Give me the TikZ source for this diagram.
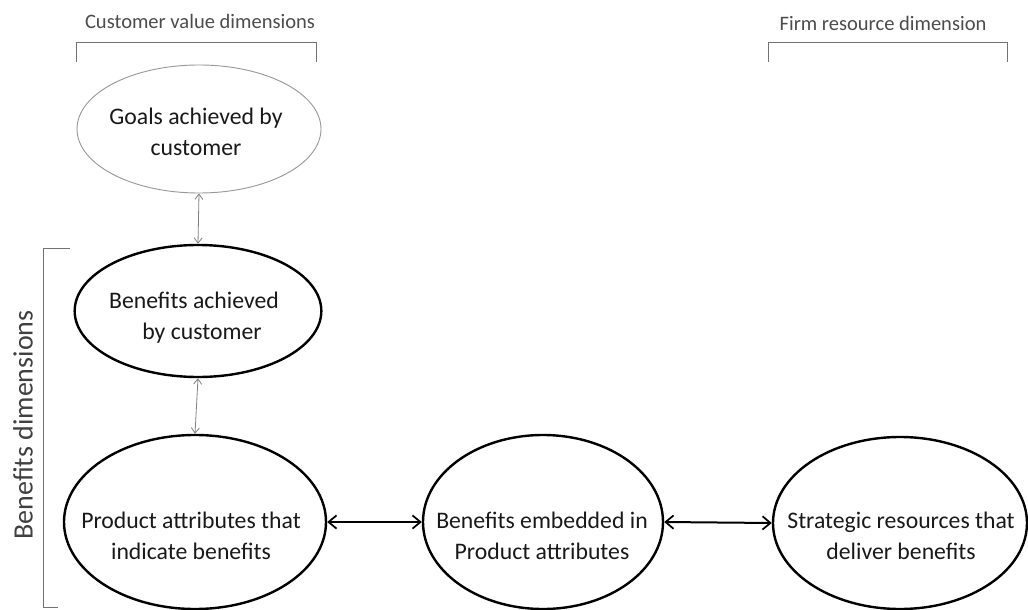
\documentclass[tikz,border=0pt]{standalone}
\usepackage{fontspec}
\setmainfont{Carlito}
\usetikzlibrary{shapes.geometric,arrows.meta}
\begin{document}
\begin{tikzpicture}[x=0.75pt,y=-0.75pt,
  oval/.style={ellipse,draw=black,line width=1.8pt,inner sep=0pt},
  softoval/.style={ellipse,draw=black!40,line width=0.7pt,inner sep=0pt},
  txt/.style={align=center,text=black!90,font=\fontsize{17.8pt}{23.2pt}\selectfont},
  dimlabel/.style={text=black!70,font=\fontsize{15.4pt}{18pt}\selectfont},
  bracket/.style={draw=black!55,line width=0.7pt},
  biglink/.style={draw=black,line width=1.5pt,{Straight Barb[length=6pt,width=10pt,line width=1.3pt]}-{Straight Barb[length=6pt,width=10pt,line width=1.3pt]}},
  thinlink/.style={draw=black!50,line width=0.6pt,{Straight Barb[length=4pt,width=6pt]}-{Straight Barb[length=4pt,width=6pt]}}]
\useasboundingbox (0,0) rectangle (1028,610);

% dimension headings and their brackets
\node[dimlabel] (cvd) at (200,21) {Customer value dimensions};
\node[dimlabel] (frd) at (883,23) {Firm resource dimension};
\coordinate (cvdA) at (76,62);
\coordinate (cvdB) at (76,42);
\coordinate (cvdC) at (316,42);
\coordinate (cvdD) at (316,62);
\draw[bracket] (cvdA) -- (cvdB) -- (cvdC) -- (cvdD);
\coordinate (frdA) at (768,62);
\coordinate (frdB) at (768,42);
\coordinate (frdC) at (1007,42);
\coordinate (frdD) at (1007,62);
\draw[bracket] (frdA) -- (frdB) -- (frdC) -- (frdD);

% benefits bracket on the left
\node[text=black!75,font=\fontsize{21pt}{24pt}\selectfont,rotate=90] (bd) at (23,425) {Benefits dimensions};
\coordinate (bdA) at (70,248);
\coordinate (bdB) at (43,248);
\coordinate (bdC) at (43,607);
\coordinate (bdD) at (58,607);
\draw[bracket] (bdA) -- (bdB) -- (bdC) -- (bdD);

% ellipses
\node[softoval,minimum width=183pt,minimum height=96pt] (goals) at (199,129) {};
\node[oval,minimum width=185pt,minimum height=99pt] (ben) at (198,311) {};
\node[oval,minimum width=196.5pt,minimum height=130.5pt] (prod) at (195,522) {};
\node[oval,minimum width=180pt,minimum height=130.5pt] (emb) at (543,522) {};
\node[oval,minimum width=190.5pt,minimum height=129pt] (strat) at (900,523) {};

% ellipse texts
\node[txt] (goalst) at (196,132) {Goals achieved by\\customer};
\node[txt] (bent) at (194,318) {Benefits achieved\\\hspace*{12pt}by customer};
\node[txt] (prodt) at (191,536) {Product attributes that\\indicate benefits};
\node[txt] (embt) at (542,536) {Benefits embedded in\\Product attributes};
\node[txt] (stratt) at (901,536) {Strategic resources that\\deliver benefits};

% connectors
\draw[thinlink] (goals.south) -- (ben.north);
\draw[thinlink] (ben.south) -- (prod.north);
\draw[biglink] (prod.east) -- (emb.west);
\draw[biglink] (emb.east) -- (strat.west);
\end{tikzpicture}
\end{document}
